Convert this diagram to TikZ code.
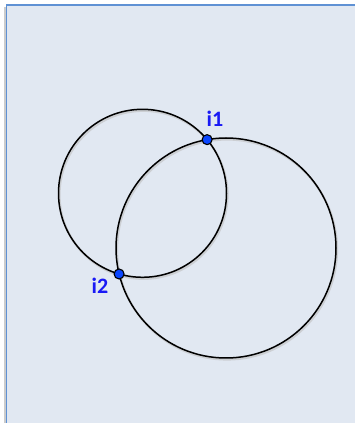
\documentclass[tikz,border=0pt]{standalone}
\usepackage{fontspec}
\newfontfamily\labfont{Carlito}
\usetikzlibrary{intersections}
\definecolor{bgfill}{RGB}{225,232,242}
\definecolor{bgborder}{RGB}{95,145,212}
\definecolor{ptblue}{RGB}{10,70,255}
\definecolor{labblue}{RGB}{25,25,245}
\tikzset{
  circ/.style={draw=black, line width=1.5pt},
  circshadow/.style={draw=black!25, line width=2.2pt, opacity=0.6},
  ipoint/.style={circle, fill=ptblue, draw=black, line width=1.1pt, minimum size=10pt, inner sep=0pt},
  lab/.style={text=labblue, font=\labfont\bfseries\fontsize{22}{22}\selectfont, inner sep=0pt},
}
\begin{document}
\begin{tikzpicture}[x=1pt,y=1pt]
\useasboundingbox (0,0) rectangle (355,423);
\clip (0,0) rectangle (355,423);
% frame shadow
\fill[black!20] (4,-10) rectangle (7,416);
\filldraw[fill=bgfill, draw=bgborder, line width=1.8pt] (6.5,-10) rectangle (370,418);
% circle shadows
\draw[circshadow] (143.5,228.2) circle (84);
\draw[circshadow] (227,173.5) circle (110);
% circles
\draw[circ, name path=small] (142.5,229.7) circle (84);
\draw[circ, name path=big] (226,175) circle (110);
\path[name intersections={of=small and big, name=x, sort by=big}];
\node[ipoint] (i1) at (x-1) {};
\node[ipoint] (i2) at (x-2) {};
\node[lab] (l1) at (215,304) {i1};
\node[lab] (l2) at (100,137) {i2};
\end{tikzpicture}
\end{document}
